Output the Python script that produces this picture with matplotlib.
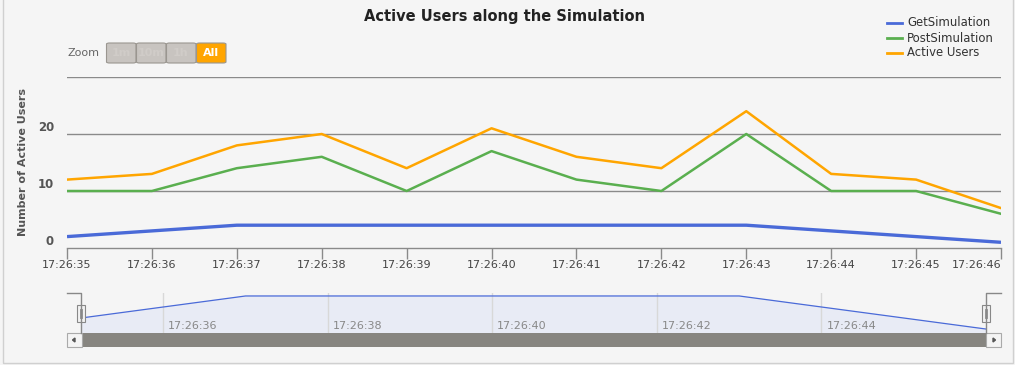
import matplotlib
matplotlib.use("Agg")
import matplotlib.pyplot as plt
from matplotlib.patches import Rectangle, FancyBboxPatch, Polygon
from matplotlib.lines import Line2D

# ---- data ----
times = ["17:26:35", "17:26:36", "17:26:37", "17:26:38", "17:26:39", "17:26:40",
         "17:26:41", "17:26:42", "17:26:43", "17:26:44", "17:26:45", "17:26:46"]
get_sim = [2, 3, 4, 4, 4, 4, 4, 4, 4, 3, 2, 1]
post_sim = [10, 10, 14, 16, 10, 17, 12, 10, 20, 10, 10, 6]
active_users = [12, 13, 18, 20, 14, 21, 16, 14, 24, 13, 12, 7]
y_ticks = [0, 10, 20]
nav_labels = ["17:26:36", "17:26:38", "17:26:40", "17:26:42", "17:26:44"]
zoom_buttons = ["1m", "10m", "1h", "All"]

W, H = 1015, 365
BG = "#f5f5f5"
BLUE = "#4a6ad8"
GREEN = "#5aaf4f"
ORANGE = "#ffa500"

fig = plt.figure(figsize=(W / 100, H / 100), dpi=100, facecolor=BG)


def fx(x):
    return x / W


def fy(y):
    return 1 - y / H


def rect_ax(x0, y0, x1, y1):
    return [fx(x0), fy(y1), fx(x1) - fx(x0), fy(y0) - fy(y1)]


x = list(range(len(times)))

# ---- main axes ----
ax = fig.add_axes(rect_ax(67, 77, 1001, 248))
ax.set_facecolor(BG)
ax.plot(x, get_sim, color=BLUE, lw=2.4, solid_capstyle="butt", zorder=3)
ax.plot(x, post_sim, color=GREEN, lw=1.8, zorder=3)
ax.plot(x, active_users, color=ORANGE, lw=1.8, zorder=4)
ax.set_xlim(0, len(times) - 1)
ax.set_ylim(0, 30)
for v in [10, 20, 30]:
    ax.axhline(v, color="#8a8a8a", lw=1, zorder=1)
for s in ["top", "right", "left"]:
    ax.spines[s].set_visible(False)
ax.spines["bottom"].set_color("#8a8a8a")
ax.spines["bottom"].set_linewidth(1)
ax.set_xticks(x)
ax.set_xticklabels(times, fontsize=8, color="#444444")
ax.tick_params(axis="x", length=8, width=1, color="#8a8a8a", pad=1)
labels = ax.get_xticklabels()
labels[-1].set_horizontalalignment("right")
labels[-1].set_x(len(times) - 1)
ax.set_yticks([])
for v in y_ticks:
    ax.text(-0.014, v, str(v), transform=ax.get_yaxis_transform(),
            ha="right", va="bottom", fontsize=8.5, color="#555555",
            fontweight="bold")
fig.text(fx(23), fy(162), "Number of Active Users", rotation=90, ha="center",
         va="center", fontsize=8, fontweight="bold", color="#555555")

# ---- title ----
fig.text(fx(505), fy(17), "Active Users along the Simulation", ha="center",
         va="center", fontsize=10.5, fontweight="bold", color="#222222")

# ---- legend ----
legend_items = [("GetSimulation", BLUE), ("PostSimulation", GREEN),
                ("Active Users", ORANGE)]
for i, (lab, col) in enumerate(legend_items):
    yy = 23 + 15 * i
    fig.add_artist(Line2D([fx(887), fx(902)], [fy(yy), fy(yy)], color=col,
                          lw=2, transform=fig.transFigure))
    fig.text(fx(907), fy(yy), lab, ha="left", va="center", fontsize=8.4,
             color="#333333")

# ---- zoom buttons ----
fig.text(fx(68), fy(53), "Zoom", ha="left", va="center", fontsize=8,
         color="#666666")
bx = [106, 136, 166, 196]
for i, lab in enumerate(zoom_buttons):
    active = lab == "All"
    fc = ORANGE if active else "#c8c4c0"
    p = FancyBboxPatch((fx(bx[i] + 0.5), fy(63)), fx(29.5), fy(43) - fy(63),
                       boxstyle="round,pad=0,rounding_size=0.003",
                       transform=fig.transFigure, facecolor=fc,
                       edgecolor="#9a9690", lw=0.8)
    fig.add_artist(p)
    fig.text(fx(bx[i] + 15), fy(52.5), lab, ha="center", va="center",
             fontsize=8, fontweight="bold",
             color="white" if active else "#d0ccc8")

# ---- navigator ----
nav = fig.add_axes(rect_ax(67, 293, 1001, 333))
nav.set_facecolor(BG)
pad_l = (81 - 67) / (986 - 81) * 11
pad_r = (1001 - 986) / (986 - 81) * 11
nav.set_xlim(-pad_l, 11 + pad_r)
nav.set_ylim(0.64, 4.27)
nav.fill_between(x, get_sim, 0.64, color="#e8ebf5", zorder=1)
nav.plot(x, get_sim, color=BLUE, lw=0.9, zorder=3)
for s in nav.spines.values():
    s.set_visible(False)
nav.set_xticks([])
nav.set_yticks([])
for i, lab in enumerate(nav_labels):
    xv = 1 + 2 * i
    nav.axvline(xv, color="#d8d8d8", lw=1, zorder=2)
    nav.text(xv + 0.06, 1.3, lab, ha="left", va="center", fontsize=8,
             color="#888888", zorder=4)
# handles / outline
for xh, xe in [(81, 67), (986, 1001)]:
    fig.add_artist(Line2D([fx(xe), fx(xh), fx(xh)], [fy(293), fy(293), fy(333)],
                          color="#888888", lw=1, transform=fig.transFigure))
    fig.add_artist(Rectangle((fx(xh - 4), fy(322)), fx(8), fy(305) - fy(322),
                             transform=fig.transFigure, facecolor="#f2f2f2",
                             edgecolor="#888888", lw=0.8))
    for dx in (-1, 1):
        fig.add_artist(Line2D([fx(xh + dx), fx(xh + dx)], [fy(309), fy(318)],
                              color="#888888", lw=0.6,
                              transform=fig.transFigure))

# ---- scrollbar ----
fig.add_artist(Rectangle((fx(81), fy(347)), fx(905), fy(333) - fy(347),
                         transform=fig.transFigure, facecolor="#878580",
                         edgecolor="none"))
for x0 in (67, 986):
    fig.add_artist(Rectangle((fx(x0), fy(347)), fx(14.5), fy(333) - fy(347),
                             transform=fig.transFigure, facecolor="#f4f4f4",
                             edgecolor="#aaaaaa", lw=0.8))
fig.add_artist(Polygon([(fx(72.5), fy(340)), (fx(75), fy(338)), (fx(75), fy(342))],
                       closed=True, transform=fig.transFigure, color="#555555"))
fig.add_artist(Polygon([(fx(995.5), fy(340)), (fx(993), fy(338)), (fx(993), fy(342))],
                       closed=True, transform=fig.transFigure, color="#555555"))

# ---- outer border ----
fig.add_artist(Rectangle((fx(2.5), fy(362.5)), fx(1010.5), fy(-5) - fy(362.5),
                         transform=fig.transFigure, facecolor="none",
                         edgecolor="#d0d0d0", lw=1))

fig.savefig("out.png", dpi=100, facecolor=BG)
